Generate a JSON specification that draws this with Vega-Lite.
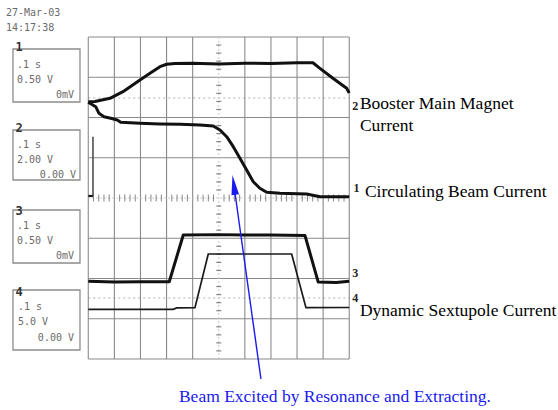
{
  "$schema": "https://vega.github.io/schema/vega-lite/v6.json",
  "autosize": {"type": "fit", "contains": "padding"},
  "width": 558,
  "height": 410,
  "padding": 0,
  "background": "white",
  "config": {"view": {"stroke": null}},
  "datasets": {
    "vgrid": [
      {"x": 0, "y": 0, "y2": 8}, {"x": 1, "y": 0, "y2": 8}, {"x": 2, "y": 0, "y2": 8}, {"x": 3, "y": 0, "y2": 8},
      {"x": 4, "y": 0, "y2": 8}, {"x": 6, "y": 0, "y2": 8}, {"x": 7, "y": 0, "y2": 8},
      {"x": 8, "y": 0, "y2": 8}, {"x": 9, "y": 0, "y2": 8}, {"x": 10, "y": 0, "y2": 8}
    ],
    "hgrid": [
      {"y": 0, "x": 0, "x2": 10}, {"y": 1, "x": 0, "x2": 10}, {"y": 2, "x": 0, "x2": 10}, {"y": 3, "x": 0, "x2": 10},
      {"y": 5, "x": 0, "x2": 10}, {"y": 6, "x": 0, "x2": 10}, {"y": 7, "x": 0, "x2": 10}, {"y": 8, "x": 0, "x2": 10}
    ],
    "center": [
      {"x": 5, "y": 0, "x2": 5, "y2": 8},
      {"x": 0, "y": 4, "x2": 10, "y2": 4}
    ],
    "dotted": [
      {"y": 6.484, "x": 0, "x2": 10},
      {"y": 1.516, "x": 0, "x2": 10}
    ],
    "xticks": [
      {"x": 0.2, "y": 4}, {"x": 0.4, "y": 4}, {"x": 0.6, "y": 4}, {"x": 0.8, "y": 4},
      {"x": 1.2, "y": 4}, {"x": 1.4, "y": 4}, {"x": 1.6, "y": 4}, {"x": 1.8, "y": 4},
      {"x": 2.2, "y": 4}, {"x": 2.4, "y": 4}, {"x": 2.6, "y": 4}, {"x": 2.8, "y": 4},
      {"x": 3.2, "y": 4}, {"x": 3.4, "y": 4}, {"x": 3.6, "y": 4}, {"x": 3.8, "y": 4},
      {"x": 4.2, "y": 4}, {"x": 4.4, "y": 4}, {"x": 4.6, "y": 4}, {"x": 4.8, "y": 4},
      {"x": 5.2, "y": 4}, {"x": 5.4, "y": 4}, {"x": 5.6, "y": 4}, {"x": 5.8, "y": 4},
      {"x": 6.2, "y": 4}, {"x": 6.4, "y": 4}, {"x": 6.6, "y": 4}, {"x": 6.8, "y": 4},
      {"x": 7.2, "y": 4}, {"x": 7.4, "y": 4}, {"x": 7.6, "y": 4}, {"x": 7.8, "y": 4},
      {"x": 8.2, "y": 4}, {"x": 8.4, "y": 4}, {"x": 8.6, "y": 4}, {"x": 8.8, "y": 4},
      {"x": 9.2, "y": 4}, {"x": 9.4, "y": 4}, {"x": 9.6, "y": 4}, {"x": 9.8, "y": 4}
    ],
    "yticks": [
      {"x": 5, "y": 0.2}, {"x": 5, "y": 0.4}, {"x": 5, "y": 0.6}, {"x": 5, "y": 0.8},
      {"x": 5, "y": 1.2}, {"x": 5, "y": 1.4}, {"x": 5, "y": 1.6}, {"x": 5, "y": 1.8},
      {"x": 5, "y": 2.2}, {"x": 5, "y": 2.4}, {"x": 5, "y": 2.6}, {"x": 5, "y": 2.8},
      {"x": 5, "y": 3.2}, {"x": 5, "y": 3.4}, {"x": 5, "y": 3.6}, {"x": 5, "y": 3.8},
      {"x": 5, "y": 4.2}, {"x": 5, "y": 4.4}, {"x": 5, "y": 4.6}, {"x": 5, "y": 4.8},
      {"x": 5, "y": 5.2}, {"x": 5, "y": 5.4}, {"x": 5, "y": 5.6}, {"x": 5, "y": 5.8},
      {"x": 5, "y": 6.2}, {"x": 5, "y": 6.4}, {"x": 5, "y": 6.6}, {"x": 5, "y": 6.8},
      {"x": 5, "y": 7.2}, {"x": 5, "y": 7.4}, {"x": 5, "y": 7.6}, {"x": 5, "y": 7.8}
    ],
    "traces": [
      {"ch": "2", "x": 0, "y": 6.393}, {"ch": "2", "x": 0.257, "y": 6.398}, {"ch": "2", "x": 0.831, "y": 6.477},
      {"ch": "2", "x": 1.33, "y": 6.641}, {"ch": "2", "x": 1.981, "y": 6.932}, {"ch": "2", "x": 2.364, "y": 7.098},
      {"ch": "2", "x": 2.747, "y": 7.262}, {"ch": "2", "x": 3.004, "y": 7.322}, {"ch": "2", "x": 3.322, "y": 7.342},
      {"ch": "2", "x": 4, "y": 7.35}, {"ch": "2", "x": 5, "y": 7.33}, {"ch": "2", "x": 6, "y": 7.35},
      {"ch": "2", "x": 7, "y": 7.34}, {"ch": "2", "x": 8, "y": 7.36}, {"ch": "2", "x": 8.609, "y": 7.359},
      {"ch": "2", "x": 8.877, "y": 7.222}, {"ch": "2", "x": 9.375, "y": 6.974}, {"ch": "2", "x": 9.9, "y": 6.725},
      {"ch": "2", "x": 10, "y": 6.609},
      {"ch": "1", "x": 0, "y": 6.378}, {"ch": "1", "x": 0.284, "y": 6.268}, {"ch": "1", "x": 0.41, "y": 6.104},
      {"ch": "1", "x": 0.602, "y": 6.02}, {"ch": "1", "x": 0.858, "y": 5.98}, {"ch": "1", "x": 1.111, "y": 5.938},
      {"ch": "1", "x": 1.241, "y": 5.881}, {"ch": "1", "x": 1.981, "y": 5.856}, {"ch": "1", "x": 2.747, "y": 5.839},
      {"ch": "1", "x": 3.513, "y": 5.831}, {"ch": "1", "x": 4.28, "y": 5.814}, {"ch": "1", "x": 4.789, "y": 5.789},
      {"ch": "1", "x": 5.046, "y": 5.689}, {"ch": "1", "x": 5.303, "y": 5.523}, {"ch": "1", "x": 5.556, "y": 5.275},
      {"ch": "1", "x": 5.812, "y": 4.986}, {"ch": "1", "x": 6.069, "y": 4.696}, {"ch": "1", "x": 6.322, "y": 4.405},
      {"ch": "1", "x": 6.575, "y": 4.241}, {"ch": "1", "x": 6.835, "y": 4.142}, {"ch": "1", "x": 7.345, "y": 4.117},
      {"ch": "1", "x": 8.368, "y": 4.099}, {"ch": "1", "x": 8.877, "y": 4.032}, {"ch": "1", "x": 10, "y": 4.032},
      {"ch": "3", "x": 0, "y": 1.93}, {"ch": "3", "x": 1, "y": 1.91}, {"ch": "3", "x": 2, "y": 1.92},
      {"ch": "3", "x": 3.103, "y": 1.92}, {"ch": "3", "x": 3.64, "y": 3.08}, {"ch": "3", "x": 5, "y": 3.09},
      {"ch": "3", "x": 6, "y": 3.08}, {"ch": "3", "x": 7, "y": 3.08}, {"ch": "3", "x": 8.303, "y": 3.07},
      {"ch": "3", "x": 8.812, "y": 1.91}, {"ch": "3", "x": 9.5, "y": 1.9}, {"ch": "3", "x": 10, "y": 1.93}
    ],
    "trace4": [
      {"x": 0, "y": 1.235}, {"x": 3.257, "y": 1.235}, {"x": 3.387, "y": 1.27}, {"x": 4.088, "y": 1.275},
      {"x": 4.598, "y": 2.609}, {"x": 7.793, "y": 2.609}, {"x": 8.341, "y": 1.275}, {"x": 10, "y": 1.28}
    ],
    "prebeam": [
      {"x": 0, "y": 4.05}, {"x": 0.18, "y": 4.05}
    ],
    "spike": [
      {"x": 0.18, "y": 4.05, "y2": 5.523}
    ],
    "arrow": [
      {"x": 6.617, "y": -0.497, "x2": 5.579, "y2": 4.325}
    ],
    "arrowhead": [
      {"x": 5.579, "y": 4.325}
    ],
    "boxes": [
      {"x": -2.885, "x2": -0.318, "y": 7.702, "y2": 6.385},
      {"x": -2.885, "x2": -0.318, "y": 5.689, "y2": 4.447},
      {"x": -2.885, "x2": -0.318, "y": 3.702, "y2": 2.385},
      {"x": -2.885, "x2": -0.318, "y": 1.714, "y2": 0.224}
    ],
    "boxnums": [
      {"x": -2.79, "y": 7.752, "t": "1"},
      {"x": -2.79, "y": 5.739, "t": "2"},
      {"x": -2.79, "y": 3.677, "t": "3"},
      {"x": -2.79, "y": 1.665, "t": "4"}
    ],
    "lefttext": [
      {"x": -3.153, "y": 8.596, "t": "27-Mar-03"},
      {"x": -3.153, "y": 8.224, "t": "14:17:38"},
      {"x": -2.732, "y": 7.304, "t": ".1 s"},
      {"x": -2.732, "y": 6.932, "t": "0.50 V"},
      {"x": -2.732, "y": 5.317, "t": ".1 s"},
      {"x": -2.732, "y": 4.944, "t": "2.00 V"},
      {"x": -2.732, "y": 3.304, "t": ".1 s"},
      {"x": -2.732, "y": 2.932, "t": "0.50 V"},
      {"x": -2.694, "y": 1.292, "t": ".1 s"},
      {"x": -2.694, "y": 0.919, "t": "5.0 V"}
    ],
    "righttext": [
      {"x": -0.548, "y": 6.559, "t": "0mV"},
      {"x": -0.471, "y": 4.571, "t": "0.00 V"},
      {"x": -0.548, "y": 2.559, "t": "0mV"},
      {"x": -0.548, "y": 0.522, "t": "0.00 V"}
    ],
    "chmarks": [
      {"x": 10.12, "y": 6.286, "t": "2"},
      {"x": 10.16, "y": 4.248, "t": "1"},
      {"x": 10.12, "y": 2.137, "t": "3"},
      {"x": 10.12, "y": 1.516, "t": "4"}
    ],
    "labels": [
      {"x": 10.41, "y": 6.335, "t": "Booster Main Magnet"},
      {"x": 10.41, "y": 5.789, "t": "Current"},
      {"x": 10.602, "y": 4.149, "t": "Circulating Beam Current"},
      {"x": 10.41, "y": 1.193, "t": "Dynamic Sextupole Current"}
    ],
    "caption": [
      {"x": 9.452, "y": -1.068, "t": "Beam Excited by Resonance and Extracting."}
    ]
  },
  "encoding": {
    "x": {"field": "x", "type": "quantitative", "axis": null, "scale": {"domain": [-3.383, 18.0], "nice": false, "zero": false}},
    "y": {"field": "y", "type": "quantitative", "axis": null, "scale": {"domain": [-1.267, 8.919], "nice": false, "zero": false}}
  },
  "layer": [
    {"data": {"name": "dotted"}, "mark": {"type": "rule", "color": "#b0b0b0", "strokeWidth": 1, "strokeDash": [2, 3]}, "encoding": {"x2": {"field": "x2"}}},
    {"data": {"name": "vgrid"}, "mark": {"type": "rule", "color": "#8a8a8a", "strokeWidth": 1.1}, "encoding": {"y2": {"field": "y2"}}},
    {"data": {"name": "hgrid"}, "mark": {"type": "rule", "color": "#8a8a8a", "strokeWidth": 1.1}, "encoding": {"x2": {"field": "x2"}}},
    {"data": {"name": "center"}, "mark": {"type": "rule", "color": "#c8c8c8", "strokeWidth": 1, "strokeDash": [2, 2]}, "encoding": {"x2": {"field": "x2"}, "y2": {"field": "y2"}}},
    {"data": {"name": "xticks"}, "mark": {"type": "tick", "orient": "vertical", "size": 7, "thickness": 1, "color": "#555"}},
    {"data": {"name": "yticks"}, "mark": {"type": "tick", "orient": "horizontal", "size": 5, "thickness": 1.2, "color": "#555"}},
    {"data": {"name": "traces"}, "mark": {"type": "line", "color": "#111", "strokeWidth": 3, "strokeJoin": "round"}, "encoding": {"detail": {"field": "ch"}}},
    {"data": {"name": "trace4"}, "mark": {"type": "line", "color": "#1a1a1a", "strokeWidth": 1.7}},
    {"data": {"name": "prebeam"}, "mark": {"type": "line", "color": "#1a1a1a", "strokeWidth": 2.2}},
    {"data": {"name": "spike"}, "mark": {"type": "rule", "color": "#444", "strokeWidth": 1.5}, "encoding": {"y2": {"field": "y2"}}},
    {"data": {"name": "arrow"}, "mark": {"type": "rule", "color": "#1a1aee", "strokeWidth": 1.4}, "encoding": {"x2": {"field": "x2"}, "y2": {"field": "y2"}}},
    {"data": {"name": "arrowhead"}, "mark": {"type": "point", "shape": "M0,-1L0.38,1L-0.38,1Z", "size": 400, "angle": 352, "filled": true, "color": "#1a1aee", "opacity": 1}},
    {"data": {"name": "boxes"}, "mark": {"type": "rect", "fill": "white", "stroke": "#8c8c8c", "strokeWidth": 1.3}, "encoding": {"x2": {"field": "x2"}, "y2": {"field": "y2"}}},
    {"data": {"name": "boxnums"}, "mark": {"type": "text", "font": "DejaVu Sans Mono", "fontSize": 12, "fontWeight": "bold", "color": "#333", "align": "left", "baseline": "middle"}, "encoding": {"text": {"field": "t"}}},
    {"data": {"name": "lefttext"}, "mark": {"type": "text", "font": "DejaVu Sans Mono", "fontSize": 10, "color": "#6a6a6a", "align": "left", "baseline": "middle"}, "encoding": {"text": {"field": "t"}}},
    {"data": {"name": "righttext"}, "mark": {"type": "text", "font": "DejaVu Sans Mono", "fontSize": 10, "color": "#6a6a6a", "align": "right", "baseline": "middle"}, "encoding": {"text": {"field": "t"}}},
    {"data": {"name": "chmarks"}, "mark": {"type": "text", "font": "Liberation Serif", "fontSize": 12, "fontWeight": "bold", "color": "#222", "align": "left", "baseline": "middle"}, "encoding": {"text": {"field": "t"}}},
    {"data": {"name": "labels"}, "mark": {"type": "text", "font": "Liberation Serif", "fontSize": 17.5, "color": "#000", "align": "left", "baseline": "middle"}, "encoding": {"text": {"field": "t"}}},
    {"data": {"name": "caption"}, "mark": {"type": "text", "font": "Liberation Serif", "fontSize": 17.5, "color": "#1a1aee", "align": "center", "baseline": "alphabetic"}, "encoding": {"text": {"field": "t"}}}
  ]
}
